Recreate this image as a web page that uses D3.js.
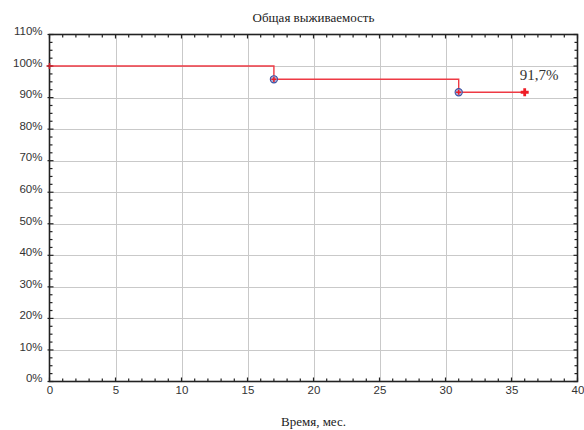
<!DOCTYPE html>
<html>
<head>
<meta charset="utf-8">
<script src="https://cdn.jsdelivr.net/npm/d3@7"></script>
<style>
  body { margin: 0; background: #fff; }
  svg { display: block; }
</style>
</head>
<body>
<div id="chart"></div>
<script>
  // survival steps: time (months) and survival (%)
  var times = [0, 17, 31, 36];
  var survival = [100, 95.8, 91.7, 91.7];
  var eventTimes = [17, 31];
  var censorTimes = [0, 36];
  var xTicks = [0, 5, 10, 15, 20, 25, 30, 35, 40];
  var yTicks = [0, 10, 20, 30, 40, 50, 60, 70, 80, 90, 100, 110];
  var titleText = 'Общая выживаемость';
  var xLabel = 'Время, мес.';
  var endLabel = '91,7%';

  var W = 584, H = 430;
  var m = {left: 49.5, right: 6.5, top: 34.5, bottom: 48.5};

  var svg = d3.select('#chart').append('svg').attr('width', W).attr('height', H);

  var x = d3.scaleLinear().domain([0, 40]).range([m.left, W - m.right]);
  var y = d3.scaleLinear().domain([0, 110]).range([H - m.bottom, m.top]);

  function survAt(t) {
    var s = survival[0];
    times.forEach(function(tt, i) { if (tt <= t) s = survival[i]; });
    return s;
  }

  // grid
  var grid = svg.append('g').attr('stroke', '#c9c9c9').attr('stroke-width', 1);
  grid.selectAll('.gx').data(xTicks.slice(1, -1)).enter().append('line')
    .attr('x1', function(d) { return Math.round(x(d)) + 0.5; })
    .attr('x2', function(d) { return Math.round(x(d)) + 0.5; })
    .attr('y1', y(0)).attr('y2', y(110));
  grid.selectAll('.gy').data(yTicks.slice(1, -1)).enter().append('line')
    .attr('y1', function(d) { return Math.round(y(d)) + 0.5; })
    .attr('y2', function(d) { return Math.round(y(d)) + 0.5; })
    .attr('x1', x(0)).attr('x2', x(40));

  // frame axes with inward ticks
  var xMinor = d3.range(0, 41, 1);
  var yMinor = d3.range(0, 110.1, 2.5);

  var axB = d3.axisBottom(x).tickValues(xTicks).tickSize(0).tickPadding(4);
  var gB = svg.append('g').attr('transform', 'translate(0,' + y(0) + ')').call(axB);
  var axL = d3.axisLeft(y).tickValues(yTicks).tickSize(0).tickPadding(7)
    .tickFormat(function(d) { return d + '%'; });
  var gL = svg.append('g').attr('transform', 'translate(' + x(0) + ',0)').call(axL);
  [gB, gL].forEach(function(g) {
    g.select('.domain').remove();
    g.selectAll('text').attr('font-family', 'Liberation Sans, Arial, sans-serif')
      .attr('font-size', 11.5).attr('fill', '#333');
  });
  gL.selectAll('text').attr('dy', '0.02em');
  gB.selectAll('text').attr('dy', '0.75em');

  var ticks = svg.append('g').attr('stroke', '#222').attr('stroke-width', 1.2);
  ticks.selectAll('.tb').data(xMinor).enter().append('line')
    .attr('x1', function(d) { return x(d); }).attr('x2', function(d) { return x(d); })
    .attr('y1', y(0)).attr('y2', function(d) { return y(0) - (d % 5 === 0 ? 4 : 3); });
  ticks.selectAll('.tt').data(xMinor).enter().append('line')
    .attr('x1', function(d) { return x(d); }).attr('x2', function(d) { return x(d); })
    .attr('y1', y(110)).attr('y2', function(d) { return y(110) + (d % 5 === 0 ? 4 : 3); });
  ticks.selectAll('.tl').data(yMinor).enter().append('line')
    .attr('y1', function(d) { return y(d); }).attr('y2', function(d) { return y(d); })
    .attr('x1', x(0)).attr('x2', function(d) { return x(0) + (d % 10 === 0 ? 4 : 3); });
  ticks.selectAll('.tr').data(yMinor).enter().append('line')
    .attr('y1', function(d) { return y(d); }).attr('y2', function(d) { return y(d); })
    .attr('x1', x(40)).attr('x2', function(d) { return x(40) - (d % 10 === 0 ? 4 : 3); });
  ticks.selectAll('.tlo').data(yTicks).enter().append('line')
    .attr('y1', function(d) { return y(d); }).attr('y2', function(d) { return y(d); })
    .attr('x1', x(0)).attr('x2', x(0) - 2);

  svg.append('rect')
    .attr('x', x(0)).attr('y', y(110))
    .attr('width', x(40) - x(0)).attr('height', y(0) - y(110))
    .attr('fill', 'none').attr('stroke', '#222').attr('stroke-width', 1.6);

  // step curve
  var line = d3.line().curve(d3.curveStepAfter)
    .x(function(d, i) { return x(times[i]); })
    .y(function(d) { return y(d); });
  svg.append('path').datum(survival)
    .attr('d', line)
    .attr('fill', 'none').attr('stroke', '#ee3a44').attr('stroke-width', 1.4);

  // event markers
  var ev = svg.append('g');
  ev.selectAll('circle').data(eventTimes).enter().append('circle')
    .attr('cx', function(d) { return x(d); })
    .attr('cy', function(d) { return y(survAt(d)); })
    .attr('r', 3.6)
    .attr('fill', '#a9b3dc').attr('stroke', '#3c4fa0').attr('stroke-width', 1.1);
  function plus(sel, size, w, color) {
    sel.append('path')
      .attr('d', function(d) {
        var cx = x(d), cy = y(survAt(d));
        return 'M' + (cx - size) + ',' + cy + 'H' + (cx + size) +
          'M' + cx + ',' + (cy - size) + 'V' + (cy + size);
      })
      .attr('stroke', color).attr('stroke-width', w).attr('fill', 'none');
  }
  plus(ev.selectAll('.pe').data(eventTimes).enter(), 2.6, 1.5, '#ee1c25');
  plus(svg.selectAll('.pc').data(censorTimes.slice(0, 1)).enter(), 3, 1.6, '#c0202a');
  plus(svg.selectAll('.pc2').data(censorTimes.slice(1)).enter(), 4, 2.8, '#ee1c25');

  // labels
  svg.append('text').attr('x', (x(0) + x(40)) / 2).attr('y', 22)
    .attr('text-anchor', 'middle')
    .attr('font-family', 'Liberation Serif, Times New Roman, serif')
    .attr('font-size', 13).attr('fill', '#222').text(titleText);
  svg.append('text').attr('x', (x(0) + x(40)) / 2).attr('y', 426)
    .attr('text-anchor', 'middle')
    .attr('font-family', 'Liberation Serif, Times New Roman, serif')
    .attr('font-size', 13).attr('fill', '#222').text(xLabel);
  svg.append('text').attr('x', x(36) - 5).attr('y', y(survival[3]) - 12)
    .attr('font-family', 'Liberation Serif, Times New Roman, serif')
    .attr('font-size', 15).attr('fill', '#333').text(endLabel);
</script>
</body>
</html>
